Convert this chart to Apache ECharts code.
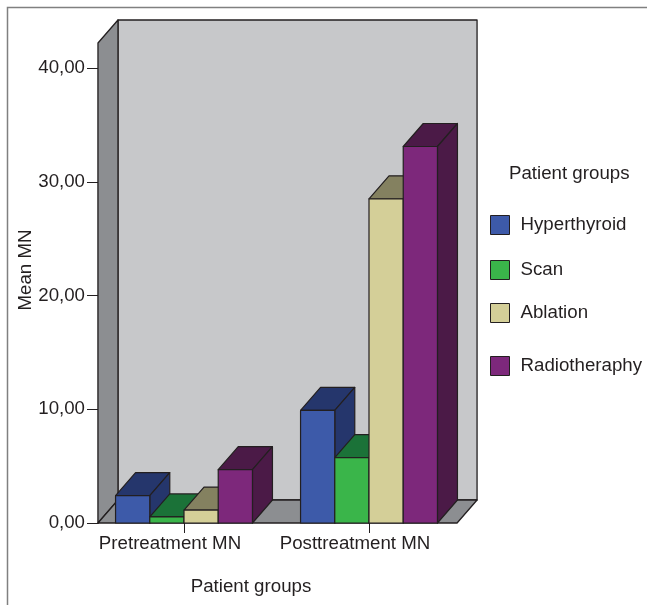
<!DOCTYPE html>
<html>
<head>
<meta charset="utf-8">
<script src="https://cdn.jsdelivr.net/npm/echarts@6/dist/echarts.min.js"></script>
<style>
html,body{margin:0;padding:0;background:#fff;}
#chart{width:647px;height:605px;}
</style>
</head>
<body>
<div id="chart"></div>
<script>
// ---- data ----
var categories = ['Pretreatment MN', 'Posttreatment MN'];
var groupNames = ['Hyperthyroid', 'Scan', 'Ablation', 'Radiotheraphy'];
var hyperthyroid = [2.4, 9.9];
var scan = [0.53, 5.75];
var ablation = [1.14, 28.5];
var radiotheraphy = [4.69, 33.1];
var yTicks = [0, 10, 20, 30, 40];

// ---- styles ----
var FONT = "'Liberation Sans', Arial, Helvetica, sans-serif";
var FS = 18.7;
var TXT = '#231f20';
var EDGE = '#231f20';
var frontColors = ['#3d5aa9', '#3ab54a', '#d4cf98', '#7d287b'];
var darkColors  = ['#25366c', '#1b7238', '#848160', '#4b1a47'];
var DX = 20, DY = -23;          // 3D depth offset (px)
var WALL_TOP = 42.2;            // wall height in axis units
var BAR_FRAC = 0.185;           // bar width as fraction of band

var seriesValues = [hyperthyroid, scan, ablation, radiotheraphy];

function barRender(sIdx) {
  return function (params, api) {
    var ci = api.value(0), v = api.value(1);
    var c = api.coord([ci, v]);
    var b = api.coord([ci, 0]);
    var band = api.size([1, 0])[0];
    var w = band * BAR_FRAC;
    var x0 = c[0] - 2 * w + sIdx * w, x1 = x0 + w;
    var yT = c[1], yB = b[1];
    var ls = {stroke: EDGE, lineWidth: 1.2, lineJoin: 'round'};
    return {
      type: 'group',
      children: [
        {type: 'polygon', shape: {points: [[x0, yT], [x0 + DX, yT + DY], [x1 + DX, yT + DY], [x1, yT]]},
          style: Object.assign({fill: darkColors[sIdx]}, ls)},
        {type: 'polygon', shape: {points: [[x1, yT], [x1 + DX, yT + DY], [x1 + DX, yB + DY], [x1, yB]]},
          style: Object.assign({fill: darkColors[sIdx]}, ls)},
        {type: 'rect', shape: {x: x0, y: yT, width: w, height: yB - yT},
          style: Object.assign({fill: frontColors[sIdx]}, ls)}
      ]
    };
  };
}

function wallRender(params, api) {
  var c0 = api.coord([0, 0]);
  var c1 = api.coord([1, 0]);
  var tp = api.coord([0, WALL_TOP]);
  var band = api.size([1, 0])[0];
  var xL = c0[0] - 0.465 * band;
  var xR = c1[0] + 0.476 * band;
  var yB = c0[1], yT = tp[1];
  var ls = {stroke: EDGE, lineWidth: 1.3, lineJoin: 'round'};
  return {
    type: 'group',
    children: [
      {type: 'polygon', shape: {points: [[xL + DX, yT + DY], [xR + DX, yT + DY], [xR + DX, yB + DY], [xL + DX, yB + DY]]},
        style: Object.assign({fill: '#c7c8ca'}, ls)},
      {type: 'polygon', shape: {points: [[xL, yT], [xL + DX, yT + DY], [xL + DX, yB + DY], [xL, yB]]},
        style: Object.assign({fill: '#8c8e91'}, ls)},
      {type: 'polygon', shape: {points: [[xL, yB], [xL + DX, yB + DY], [xR + DX, yB + DY], [xR, yB]]},
        style: Object.assign({fill: '#8c8e91'}, ls)}
    ]
  };
}

var series = [{
  type: 'custom',
  name: 'walls',
  silent: true,
  clip: false,
  renderItem: wallRender,
  data: [[0, 0]],
  encode: {x: 0, y: 1},
  z: 1
}];
groupNames.forEach(function (name, s) {
  series.push({
    type: 'custom',
    name: name,
    clip: false,
    itemStyle: {color: frontColors[s], borderColor: EDGE, borderWidth: 1},
    renderItem: barRender(s),
    data: seriesValues[s].map(function (v, i) { return [i, v]; }),
    encode: {x: 0, y: 1},
    z: 2
  });
});

var legendTops = [215, 260, 303, 356];
var legends = groupNames.map(function (name, s) {
  return {
    data: [name],
    left: 490,
    top: legendTops[s],
    padding: 0,
    icon: 'rect',
    itemWidth: 19,
    itemHeight: 19,
    selectedMode: false,
    itemStyle: {borderColor: EDGE, borderWidth: 1},
    textStyle: {fontFamily: FONT, fontSize: FS, color: TXT, padding: [0, 0, 0, 6]}
  };
});

var chart = echarts.init(document.getElementById('chart'), null, {renderer: 'canvas'});
chart.setOption({
  backgroundColor: '#ffffff',
  animation: false,
  title: {
    text: 'Patient groups',
    left: 509,
    top: 164,
    padding: 0,
    textStyle: {fontFamily: FONT, fontSize: FS, fontWeight: 'normal', color: TXT}
  },
  legend: legends,
  grid: {left: 91.5, width: 370, top: 68, bottom: 82},
  xAxis: {
    type: 'category',
    data: categories,
    boundaryGap: true,
    axisLine: {show: false},
    axisTick: {show: true, alignWithLabel: true, length: 10, lineStyle: {color: EDGE, width: 1}},
    axisLabel: {interval: 0, fontFamily: FONT, fontSize: FS, color: TXT, margin: 11, padding: [0, 28, 0, 0]},
    name: 'Patient groups',
    nameLocation: 'middle',
    nameGap: 54,
    nameMoveOverlap: false,
    nameTextStyle: {fontFamily: FONT, fontSize: FS, color: TXT, padding: [0, 51, 0, 0]},
    splitLine: {show: false}
  },
  yAxis: {
    type: 'value',
    min: yTicks[0],
    max: yTicks[yTicks.length - 1],
    interval: 10,
    offset: -6.5,
    axisLine: {show: true, lineStyle: {color: EDGE, width: 1.3}},
    axisTick: {show: true, length: 11, lineStyle: {color: EDGE, width: 1}},
    axisLabel: {fontFamily: FONT, fontSize: FS, color: TXT, margin: 13,
      formatter: function (v) { return v.toFixed(2).replace('.', ','); }},
    splitLine: {show: false},
    name: 'Mean MN',
    nameLocation: 'middle',
    nameGap: 63,
    nameMoveOverlap: false,
    nameTextStyle: {fontFamily: FONT, fontSize: FS, color: TXT, padding: [0, 0, 0, 51]}
  },
  graphic: [{
    type: 'polyline',
    silent: true,
    shape: {points: [[7.5, 605], [7.5, 7.5], [647, 7.5]]},
    style: {stroke: '#808080', lineWidth: 1.5, fill: null}
  }],
  series: series
});
</script>
</body>
</html>
